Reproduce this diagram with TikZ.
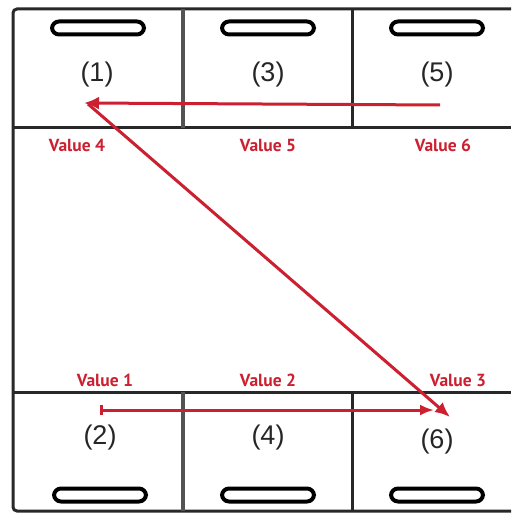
\documentclass[tikz,border=0pt]{standalone}
\usepackage{fontspec}
\setmainfont{Liberation Sans}
\newfontfamily\valfont{PT Sans}
\usetikzlibrary{arrows.meta}
\definecolor{arrowred}{RGB}{204,32,48}
\definecolor{frame}{RGB}{40,40,40}
\tikzset{
  border/.style={draw=frame,line width=3pt},
  divider/.style={draw=frame!80,line width=4.5pt},
  handle/.style={draw=black,line width=4pt,rounded corners=7pt,minimum width=92pt,minimum height=13pt,inner sep=0pt},
  numlabel/.style={font=\fontsize{27}{29}\selectfont,text=black!85},
  vallabel/.style={font=\valfont\bfseries\fontsize{17.5}{19}\selectfont,text=arrowred},
  redarrow/.style={draw=arrowred,line width=3pt,-{Latex[length=15pt,width=13pt]}},
}
\begin{document}
\begin{tikzpicture}[x=1pt,y=-1pt]
\useasboundingbox (0,0) rectangle (511,513);
\fill[white] (0,0) rectangle (511,513);
% frame lines
\draw[border,rounded corners=4pt] (511,9) -- (13,9) -- (13,511) -- (511,511);
\draw[border] (13,128) -- (511,128);
\draw[border] (13,392) -- (511,392);
% top dividers
\draw[divider] (183,9) -- (183,128);
\draw[border] (352,9) -- (352,128);
% bottom dividers
\draw[divider] (183,392) -- (183,511);
\draw[border] (352,392) -- (352,511);
% handles
\node[handle] (h1) at (98,28) {};
\node[handle] (h3) at (268,28) {};
\node[handle] (h5) at (437,28) {};
\node[handle] (h2) at (100,495) {};
\node[handle] (h4) at (268,495) {};
\node[handle] (h6) at (437,495) {};
% number labels
\node[numlabel] (n1) at (97,75) {(1)};
\node[numlabel] (n3) at (268,75) {(3)};
\node[numlabel] (n5) at (437,75) {(5)};
\node[numlabel] (n2) at (100,438) {(2)};
\node[numlabel] (n4) at (268,438) {(4)};
\node[numlabel] (n6) at (437,442) {(6)};
% value labels
\node[vallabel] (v4) at (77,145) {Value 4};
\node[vallabel] (v5) at (268,145) {Value 5};
\node[vallabel] (v6) at (443,145) {Value 6};
\node[vallabel] (v1) at (105,380) {Value 1};
\node[vallabel] (v2) at (268,380) {Value 2};
\node[vallabel] (v3) at (458,380) {Value 3};
% arrow endpoints
\coordinate (s5) at (440,105);
\coordinate (t1) at (84,103);
\coordinate (d1) at (88,104);
\coordinate (t6) at (450,417);
\coordinate (s2) at (100,410);
\coordinate (t6b) at (434,410);
% arrows
\draw[redarrow] (s5) -- (t1);
\draw[redarrow] (d1) -- (t6);
\draw[redarrow,{Bar[width=10pt]}-{Latex[length=14pt,width=11pt]}] (s2) -- (t6b);
\end{tikzpicture}
\end{document}
